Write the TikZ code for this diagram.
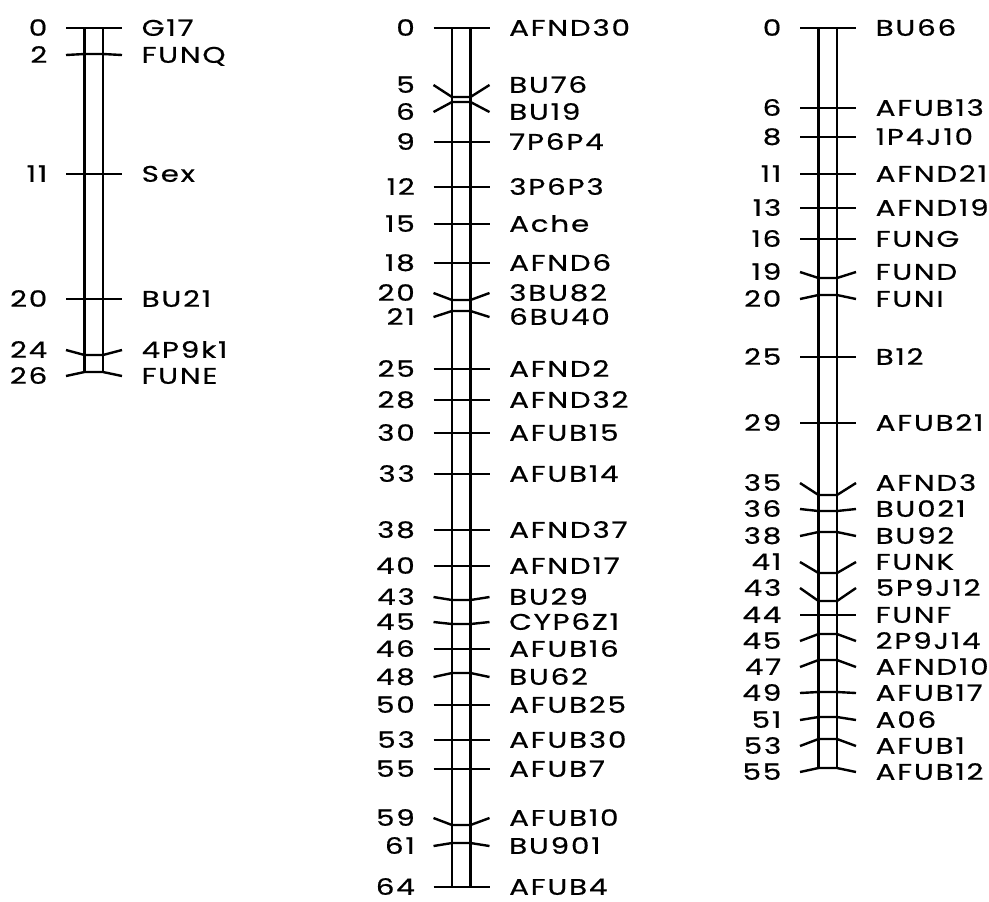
\documentclass[tikz,border=0pt]{standalone}
\usepackage{fontspec}
\setmainfont[LetterSpace=8, FakeStretch=1.3, FakeBold=0.6]{Poppins}
\usepackage{tikz}

\begin{document}
\begin{tikzpicture}[x=0.5pt, y=-0.5pt, line width=1.2pt, line join=round,
    mapdist/.style={anchor=east, inner sep=0pt, font=\fontsize{11.3}{11.3}\selectfont,
      text height=7.8pt, text depth=0pt},
    locus/.style={anchor=west, inner sep=0pt, font=\fontsize{11.3}{11.3}\selectfont,
      text height=7.8pt, text depth=0pt}]

  \useasboundingbox (0,0) rectangle (989,901);

  % -- group 1: six loci, 0 to 26 cM ---------------------------------------
  \begin{scope}[shift={(84.5,0)}]
    \draw (0,28) -- (0,372);
    \draw (18.5,28) -- (18.5,372);
    \foreach \b/\l/\d/\m in {28/28/0/G17, 54/55/2/FUNQ, 174/174/11/Sex,
        299/299/20/BU21, 355/350/24/4P9k1, 372/376/26/FUNE} {
      \draw (-18.5,\l) -- (0,\b) -- (18.5,\b) -- (37.5,\l);
      \node[mapdist] (d\m) at (-36,\l) {\d};
      \node[locus] (\m) at (56,\l) {\m};
    }
  \end{scope}

  % -- group 2: twenty-five loci, 0 to 64 cM -------------------------------
  \begin{scope}[shift={(452,0)}]
    \draw (0,28) -- (0,887);
    \draw (18.5,28) -- (18.5,887);
    \foreach \b/\l/\d/\m in {28/28/0/AFND30, 97/85/5/BU76, 102/112/6/BU19,
        142/142/9/7P6P4, 187/187/12/3P6P3, 224/224/15/Ache, 263/263/18/AFND6,
        300/293/20/3BU82, 311/317/21/6BU40, 369/369/25/AFND2,
        400/400/28/AFND32, 433/433/30/AFUB15, 474/474/33/AFUB14,
        530/530/38/AFND37, 566/566/40/AFND17, 600/597/43/BU29,
        624/622/45/CYP6Z1, 649/649/46/AFUB16, 673/677/48/BU62,
        705/705/50/AFUB25, 740/740/53/AFUB30, 769/769/55/AFUB7,
        825/818/59/AFUB10, 843/846/61/BU901, 887/887/64/AFUB4} {
      \draw (-18.5,\l) -- (0,\b) -- (18.5,\b) -- (37.5,\l);
      \node[mapdist] (d\m) at (-36,\l) {\d};
      \node[locus] (\m) at (56,\l) {\m};
    }
  \end{scope}

  % -- group 3: twenty-two loci, 0 to 55 cM --------------------------------
  \begin{scope}[shift={(818.5,0)}]
    \draw (0,28) -- (0,768);
    \draw (18.5,28) -- (18.5,768);
    \foreach \b/\l/\d/\m in {28/28/0/BU66, 108/108/6/AFUB13, 137/137/8/1P4J10,
        174/174/11/AFND21, 208/208/13/AFND19, 239/239/16/FUNG,
        278/272/19/FUND, 295/299/20/FUNI, 357/357/25/B12,
        423/423/29/AFUB21, 495/483/35/AFND3, 511/509/36/BU021,
        532/536/38/BU92, 573/562/41/FUNK, 601/588/43/5P9J12,
        615/615/44/FUNF, 634/641/45/2P9J14, 660/667/47/AFND10,
        692/693/49/AFUB17, 717/720/51/A06, 739/746/53/AFUB1,
        768/772/55/AFUB12} {
      \draw (-18.5,\l) -- (0,\b) -- (18.5,\b) -- (37.5,\l);
      \node[mapdist] (d\m) at (-36,\l) {\d};
      \node[locus] (\m) at (56,\l) {\m};
    }
  \end{scope}

\end{tikzpicture}
\end{document}
